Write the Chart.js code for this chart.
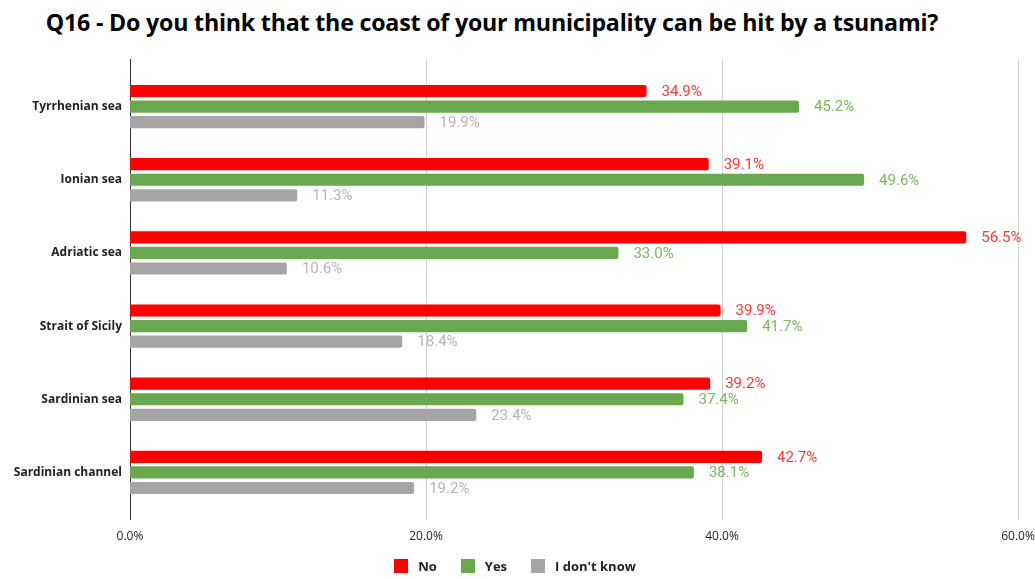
<!DOCTYPE html>
<html>
<head>
<meta charset="utf-8">
<script src="https://cdn.jsdelivr.net/npm/chart.js@4"></script>
<style>
  html, body { margin: 0; padding: 0; background: #fff; }
  #wrap { position: relative; width: 1035px; height: 579px; }
  #title {
    position: absolute; left: 0; top: 6px; width: 984px; text-align: center;
    font: bold 23.2px "Open Sans", sans-serif; color: #000; letter-spacing: -0.2px;
  }
  #legend {
    position: absolute; left: 0; top: 558px; width: 1030px; height: 16px;
    display: flex; justify-content: center; align-items: center;
    font: bold 13px "Open Sans", sans-serif; color: #222;
  }
  #legend .item { display: flex; align-items: center; margin: 0 12px; }
  #legend .box { width: 14px; height: 14px; margin-right: 10px; }
  canvas { position: absolute; left: 0; top: 0; }
</style>
</head>
<body>
<div id="wrap">
  <div id="title">Q16 - Do you think that the coast of your municipality can be hit by a tsunami?</div>
  <canvas id="chart" width="1035" height="579"></canvas>
  <div id="legend"></div>
</div>
<script>
// survey answers per sea area (percent)
const categories = ['Tyrrhenian sea', 'Ionian sea', 'Adriatic sea', 'Strait of Sicily', 'Sardinian sea', 'Sardinian channel'];
const noValues = [34.9, 39.1, 56.5, 39.9, 39.2, 42.7];
const yesValues = [45.2, 49.6, 33.0, 41.7, 37.4, 38.1];
const dontKnowValues = [19.9, 11.3, 10.6, 18.4, 23.4, 19.2];
const xTicks = [0, 20, 40, 60];

const labelFont = '"Open Sans", sans-serif';

// value labels to the right of each bar
const valueLabels = {
    id: 'valueLabels',
    afterDatasetsDraw(chart) {
        const ctx = chart.ctx;
        ctx.save();
        ctx.font = '15px Roboto, sans-serif';
        ctx.textBaseline = 'middle';
        ctx.textAlign = 'left';
        chart.data.datasets.forEach((ds, i) => {
            chart.getDatasetMeta(i).data.forEach((bar, j) => {
                ctx.fillStyle = ds.labelColor;
                ctx.fillText(ds.data[j].toFixed(1) + '%', bar.x + 15, bar.y + 1);
            });
        });
        ctx.restore();
    }
};

// vertical grid lines that run a little past the plot area
const gridLines = {
    id: 'gridLines',
    beforeDatasetsDraw(chart) {
        const ctx = chart.ctx;
        const area = chart.chartArea;
        const x = chart.scales.x;
        ctx.save();
        xTicks.forEach(t => {
            const px = Math.round(x.getPixelForValue(t)) + 0.5;
            ctx.strokeStyle = t === 0 ? '#333' : '#d0d0d0';
            ctx.lineWidth = 1;
            ctx.beginPath();
            ctx.moveTo(px, area.top - 11);
            ctx.lineTo(px, area.bottom + 11);
            ctx.stroke();
        });
        ctx.restore();
    }
};

const chart = new Chart(document.getElementById('chart'), {
    type: 'bar',
    data: {
        labels: categories,
        datasets: [{
            label: 'No',
            data: noValues,
            backgroundColor: '#ff0000',
            labelColor: '#ff3838',
            borderRadius: 2
        }, {
            label: 'Yes',
            data: yesValues,
            backgroundColor: '#6aa84f',
            labelColor: '#7db562',
            borderRadius: 2
        }, {
            label: "I don't know",
            data: dontKnowValues,
            backgroundColor: '#a5a5a5',
            labelColor: '#b5b5b5',
            borderRadius: 2
        }]
    },
    options: {
        indexAxis: 'y',
        responsive: false,
        animation: false,
        categoryPercentage: 0.64,
        barPercentage: 0.78,
        layout: {
            padding: { top: 70, right: 17, left: 4, bottom: 26 }
        },
        scales: {
            x: {
                min: 0,
                max: 60,
                afterBuildTicks: axis => { axis.ticks = xTicks.map(v => ({ value: v })); },
                afterFit: axis => {
                    axis.height = 44;
                    axis.paddingLeft = 0;
                    axis.paddingRight = 0;
                },
                grid: { display: false },
                border: { display: false },
                ticks: {
                    padding: 12,
                    color: '#222',
                    font: { family: labelFont, size: 12 },
                    callback: v => v.toFixed(1) + '%'
                }
            },
            y: {
                grid: { display: false },
                border: { display: false },
                afterFit: axis => { axis.width = 126; },
                ticks: {
                    padding: 0,
                    color: '#222',
                    font: { family: labelFont, size: 12, weight: 'bold' }
                }
            }
        },
        plugins: {
            legend: { display: false },
            tooltip: { enabled: false }
        }
    },
    plugins: [gridLines, valueLabels]
});

// legend below the axis, built from the datasets
const legend = document.getElementById('legend');
chart.data.datasets.forEach(ds => {
    const item = document.createElement('span');
    item.className = 'item';
    const box = document.createElement('span');
    box.className = 'box';
    box.style.background = ds.backgroundColor;
    item.appendChild(box);
    item.appendChild(document.createTextNode(ds.label));
    legend.appendChild(item);
});
</script>
</body>
</html>
